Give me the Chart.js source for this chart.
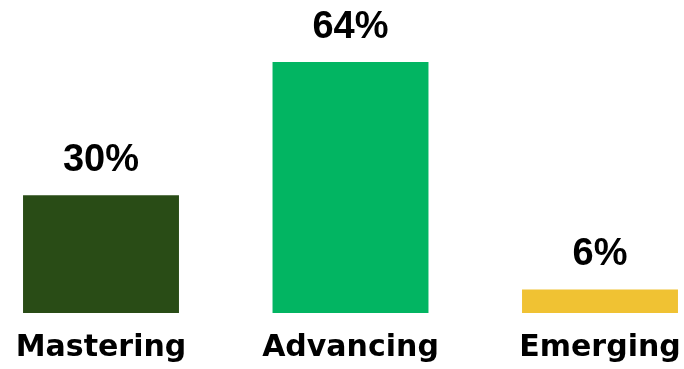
<!DOCTYPE html>
<html lang="en">
<head>
    <meta charset="UTF-8">
    <title>Levels</title>
    <script src="https://cdn.jsdelivr.net/npm/chart.js"></script>
    <style>
        body { margin: 0; padding: 0; background: #fff; }
    </style>
</head>
<body>
    <canvas id="levelChart" width="684" height="369"></canvas>
    <script>
        // chart data
        const categories = ['Mastering', 'Advancing', 'Emerging'];
        const percents = [30, 64, 6];
        const barColors = ['#294C16', '#02B562', '#F0C233'];

        // draws the "xx%" labels above each bar
        const valueLabels = {
            id: 'valueLabels',
            afterDatasetsDraw(chart) {
                const ctx = chart.ctx;
                const meta = chart.getDatasetMeta(0);
                ctx.save();
                ctx.font = 'bold 38px Arial, sans-serif';
                ctx.fillStyle = '#000';
                ctx.textAlign = 'center';
                ctx.textBaseline = 'alphabetic';
                meta.data.forEach((bar, i) => {
                    ctx.fillText(percents[i] + '%', bar.x, bar.y - 24.5);
                });
                ctx.restore();
            }
        };

        new Chart(document.getElementById('levelChart'), {
            type: 'bar',
            data: {
                labels: categories,
                datasets: [{
                    data: percents,
                    backgroundColor: barColors,
                    barPercentage: 1,
                    categoryPercentage: 0.625,
                    clip: false
                }]
            },
            options: {
                responsive: false,
                animation: false,
                layout: { padding: { top: 38.5, left: 0, right: 0, bottom: 0 } },
                plugins: { legend: { display: false }, tooltip: { enabled: false } },
                scales: {
                    x: {
                        offset: false,
                        grid: { display: false, drawTicks: false },
                        border: { display: false },
                        ticks: {
                            padding: 17,
                            color: '#000',
                            maxRotation: 0,
                            autoSkip: false,
                            font: { family: '"DejaVu Sans"', size: 30, weight: 'bold' }
                        },
                        afterFit(scale) {
                            // keep the category centres where the picture has them
                            scale.height = 56;
                            scale.paddingLeft = 101;
                            scale.paddingRight = 84;
                        }
                    },
                    y: {
                        display: false,
                        min: 0,
                        max: 70
                    }
                }
            },
            plugins: [valueLabels]
        });
    </script>
</body>
</html>
